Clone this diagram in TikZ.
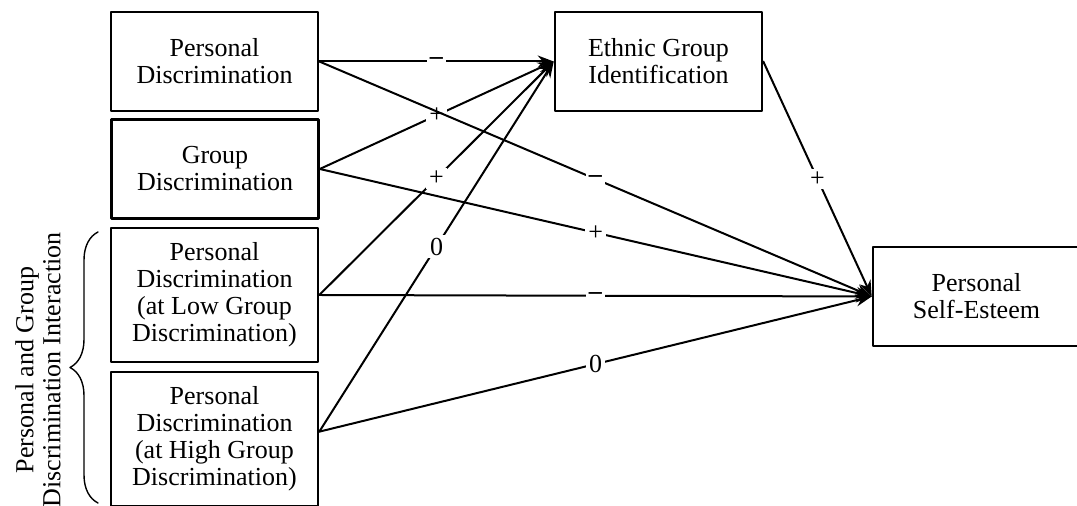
\documentclass[tikz,border=0pt]{standalone}
\usepackage{fontspec}
\setmainfont{Liberation Serif}
\usetikzlibrary{arrows.meta,decorations.pathreplacing}
\begin{document}
\begin{tikzpicture}[x=0.5pt, y=-0.5pt, line cap=round, line join=round, >={Stealth[length=8pt,width=6pt]}, font=\fontsize{13}{13.5}\selectfont]
	\tikzset{var/.style={draw, line width=1.3pt, align=center, minimum width=103.5pt, minimum height=49.5pt, inner sep=0pt},
		path/.style={->, line width=1pt},
		sign/.style={fill=white, inner sep=1.5pt}}
	\useasboundingbox (0,0) rectangle (1077,506);
	\node[var] (pd) at (214.5,61.5) {Personal\\Discrimination};
	\node[var] (gd) at (215,169) {Group\\Discrimination};
	\node[var, minimum height=67pt] (pdlow) at (214.5,295) {Personal\\Discrimination\\(at Low Group\\Discrimination)};
	\node[var, minimum height=67pt] (pdhigh) at (214.5,439) {Personal\\Discrimination\\(at High Group\\Discrimination)};
	\node[var] (egi) at (658.5,61.5) {Ethnic Group\\Identification};
	\node[var] (pse) at (976.5,296.5) {Personal\\Self-Esteem};
	% paths to identification
	\draw[path] (pd.east) -- node[sign]{\textbf{--}} (egi.west);
	\draw[path] (gd.east) -- node[sign]{+} (egi.west);
	\draw[path] (pdlow.east) -- node[sign]{+} (egi.west);
	\draw[path] (pdhigh.4) -- node[sign]{0} (egi.west);
	% paths to self-esteem
	\draw[path] (pd.east) -- node[sign]{\textbf{--}} (pse.west);
	\draw[path] (gd.east) -- node[sign]{+} (pse.west);
	\draw[path] (pdlow.east) -- node[sign]{\textbf{--}} (pse.west);
	\draw[path] (pdhigh.4) -- node[sign]{0} (pse.west);
	\draw[path] (egi.east) -- node[sign]{+} (pse.west);
	% interaction brace
	\draw[decorate, decoration={brace, amplitude=14pt}, line width=0.7pt] (98,503) -- (98,232);
	\node[rotate=90, align=center] (inter) at (38,370) {Personal and Group\\Discrimination Interaction};
\end{tikzpicture}
\end{document}
